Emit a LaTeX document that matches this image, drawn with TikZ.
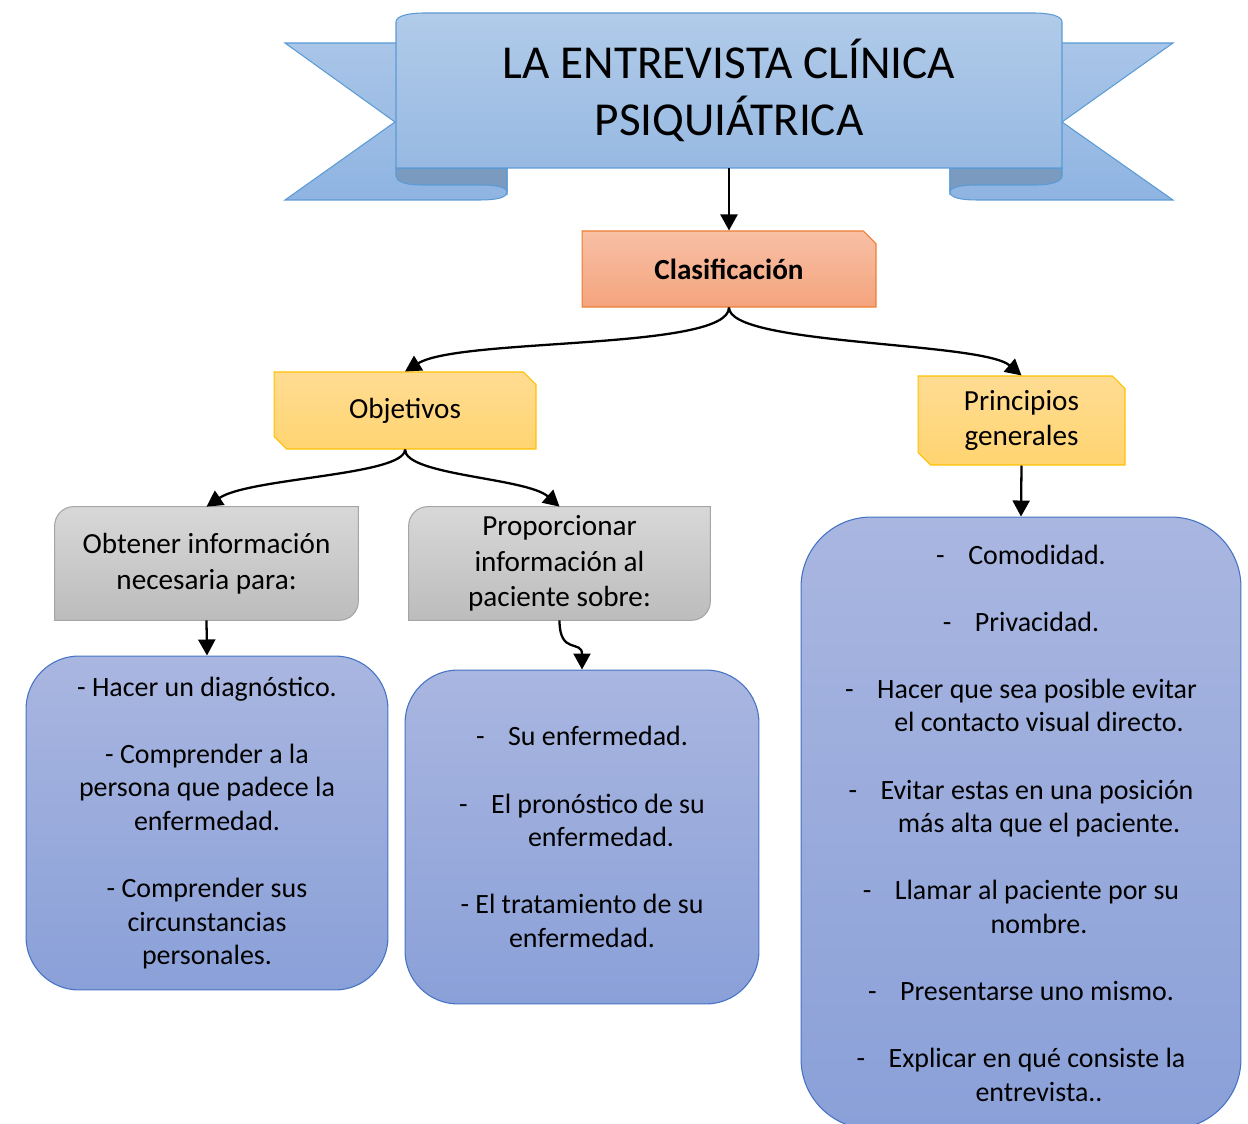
\documentclass[tikz,border=0pt]{standalone}
\usepackage{fontspec}
\setmainfont{Carlito}
\usetikzlibrary{arrows.meta,shapes.misc,backgrounds}

\definecolor{cintaborde}{HTML}{5B9BD5}
\definecolor{cintaarriba}{HTML}{B1CBE9}
\definecolor{cintaabajo}{HTML}{97B9E2}
\definecolor{colaarriba}{HTML}{A9C5E8}
\definecolor{colaabajo}{HTML}{8FB4E2}
\definecolor{cintaoscura}{HTML}{7A9ABF}
\definecolor{naranjaborde}{HTML}{ED7D31}
\definecolor{naranjaarriba}{HTML}{F8C0A5}
\definecolor{naranjaabajo}{HTML}{F4A47D}
\definecolor{amarilloborde}{HTML}{FFC000}
\definecolor{amarilloarriba}{HTML}{FFDC93}
\definecolor{amarilloabajo}{HTML}{FFD470}
\definecolor{grisborde}{HTML}{A5A5A5}
\definecolor{grisarriba}{HTML}{D8D8D8}
\definecolor{grisabajo}{HTML}{BCBCBC}
\definecolor{azulborde}{HTML}{4472C4}
\definecolor{azularriba}{HTML}{A9B6E0}
\definecolor{azulabajo}{HTML}{8AA0D8}

\newcommand{\guion}{-\hspace{0.47cm}}

\begin{document}
\begin{tikzpicture}[
	x=0.02cm, y=-0.02cm,
	cola/.style={draw=cintaborde, line width=0.6pt, top color=colaarriba, bottom color=colaabajo},
	pliegue/.style={draw=cintaborde, line width=0.6pt, fill=cintaoscura},
	principal/.style={draw=cintaborde, line width=0.6pt, top color=cintaarriba, bottom color=cintaabajo},
	esquina/.style={chamfered rectangle, chamfered rectangle xsep=0.12cm, chamfered rectangle ysep=0.13cm,
		line width=0.6pt, align=center, inner sep=0pt, font=\fontsize{16.6}{20.2}\selectfont},
	naranja/.style={esquina, chamfered rectangle corners=north east, draw=naranjaborde,
		top color=naranjaarriba, bottom color=naranjaabajo},
	amarilla/.style={esquina, chamfered rectangle corners={north east,south west}, draw=amarilloborde,
		top color=amarilloarriba, bottom color=amarilloabajo},
	gris/.style={rectangle, align=center, inner sep=0pt, minimum width=6.06cm, minimum height=2.26cm,
		font=\fontsize{16.6}{20.2}\selectfont},
	grisfondo/.style={draw=grisborde, line width=0.6pt, top color=grisarriba, bottom color=grisabajo},
	azul/.style={rectangle, rounded corners=1.06cm, draw=azulborde, line width=0.6pt,
		top color=azularriba, bottom color=azulabajo, align=center, inner sep=0pt,
		font=\fontsize{15.9}{19.1}\selectfont},
	flecha/.style={-{Triangle[length=0.32cm,width=0.34cm]}, line width=1.3pt}
]
\useasboundingbox (0,0) rectangle (1248,1124);

% cinta del titulo
\draw[cola] (285,43) -- (507,43) -- (507,192) .. controls (507,198) and (495,200) .. (480,200)
	-- (285,200) -- (395,122) -- cycle;
\draw[cola] (1173,43) -- (950,43) -- (950,192) .. controls (950,198) and (962,200) .. (977,200)
	-- (1173,200) -- (1062,122) -- cycle;
\filldraw[pliegue] (396,168) -- (507,168) -- (507,192) .. controls (507,187) and (495,185) .. (480,185)
	-- (420,185) .. controls (405,185) and (396,181) .. (396,176) -- cycle;
\filldraw[pliegue] (1062,168) -- (950,168) -- (950,192) .. controls (950,187) and (962,185) .. (977,185)
	-- (1037,185) .. controls (1052,185) and (1062,181) .. (1062,176) -- cycle;
\draw[principal] (396,168) -- (396,22) .. controls (396,16) and (408,13) .. (425,13) -- (1033,13)
	.. controls (1050,13) and (1062,16) .. (1062,22) -- (1062,168) -- cycle;
\node[minimum width=13.32cm, minimum height=3.1cm, align=center, inner sep=0pt,
	font=\fontsize{26.9}{32.4}\selectfont] (titulo) at (729,90.5) {LA ENTREVISTA CLÍNICA\\PSIQUIÁTRICA};

% nodos
\node[naranja, minimum width=5.88cm, minimum height=1.52cm] (clas) at (729,269) {\bfseries Clasificación};
\node[amarilla, minimum width=5.24cm, minimum height=1.54cm] (obj) at (405,410.5) {Objetivos};
\node[amarilla, minimum width=4.14cm, minimum height=1.78cm] (pgen) at (1021.5,420.5) {Principios\\generales};
\node[gris] (obt) at (206.5,563.5) {Obtener información\\necesaria para:};
\node[gris, minimum width=6.02cm] (prop) at (559.5,563.5) {Proporcionar\\información al\\paciente sobre:};

\begin{scope}[on background layer]
\foreach \n in {obt,prop}
	\draw[grisfondo] (\n.south west) -- ([yshift=-0.38cm]\n.north west)
		.. controls ([yshift=-0.17cm]\n.north west) and ([xshift=0.17cm]\n.north west) .. ([xshift=0.38cm]\n.north west)
		-- (\n.north east) -- ([yshift=0.38cm]\n.south east)
		.. controls ([yshift=0.17cm]\n.south east) and ([xshift=-0.17cm]\n.south east) .. ([xshift=-0.38cm]\n.south east) -- cycle;
\end{scope}

\node[azul, minimum width=7.24cm, minimum height=6.68cm] (lbox) at (207,823) {%
	- Hacer un diagnóstico.\\[19.1pt]
	- Comprender a la\\
	persona que padece la\\
	enfermedad.\\[19.1pt]
	- Comprender sus\\
	circunstancias\\
	personales.};
\node[azul, minimum width=7.08cm, minimum height=6.68cm] (mbox) at (582,837) {%
	\guion Su enfermedad.\\[19.1pt]
	\guion El pronóstico de su\\
	\hspace*{0.76cm}enfermedad.\\[19.1pt]
	- El tratamiento de su\\
	enfermedad.};
\node[azul, rounded corners=1.4cm, minimum width=8.8cm, minimum height=12.24cm] (rbox) at (1021,823) {%
	\guion Comodidad.\\[19.1pt]
	\guion Privacidad.\\[19.1pt]
	\guion Hacer que sea posible evitar\\
	\hspace*{0.72cm}el contacto visual directo.\\[19.1pt]
	\guion Evitar estas en una posición\\
	\hspace*{0.72cm}más alta que el paciente.\\[19.1pt]
	\guion Llamar al paciente por su\\
	\hspace*{0.72cm}nombre.\\[19.1pt]
	\guion Presentarse uno mismo.\\[19.1pt]
	\guion Explicar en qué consiste la\\
	\hspace*{0.72cm}entrevista..};

% conectores
\draw[flecha] (titulo.south) -- (clas.north);
\draw[flecha] (clas.south) .. controls +(0,43) and +(55,-34) .. (obj.north);
\draw[flecha] (clas.south) .. controls +(0,38) and +(-40,-34) .. (pgen.north);
\draw[flecha] (obj.south) .. controls +(0,26) and +(43,-29) .. (obt.north);
\draw[flecha] (obj.south) .. controls +(0,26) and +(-33,-29) .. (prop.north);
\draw[flecha] (obt.south) -- (lbox.north);
\draw[flecha] (prop.south) .. controls +(0,35) and +(0,-30) .. (mbox.north);
\draw[flecha] (pgen.south) -- (rbox.north);
\end{tikzpicture}
\end{document}
